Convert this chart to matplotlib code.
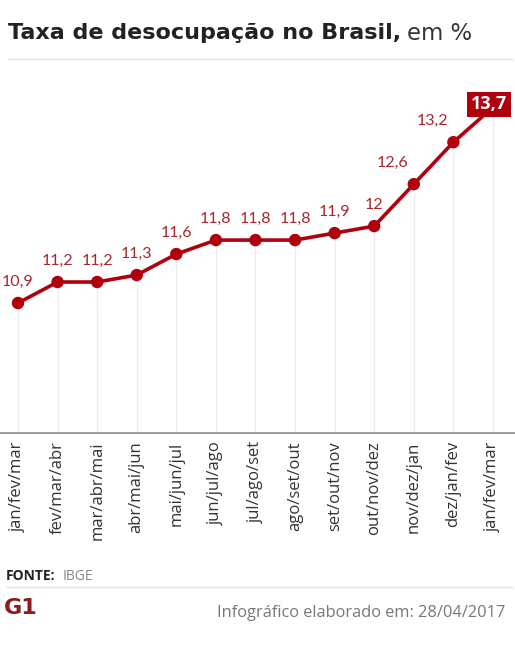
"""Taxa de desocupação no Brasil - trimestres móveis (IBGE)."""

import matplotlib
matplotlib.use("Agg")

import matplotlib.pyplot as plt

periods = [
    "jan/fev/mar", "fev/mar/abr", "mar/abr/mai", "abr/mai/jun", "mai/jun/jul",
    "jun/jul/ago", "jul/ago/set", "ago/set/out", "set/out/nov", "out/nov/dez",
    "nov/dez/jan", "dez/jan/fev", "jan/fev/mar",
]
rates = [10.9, 11.2, 11.2, 11.3, 11.6, 11.8, 11.8, 11.8, 11.9, 12.0, 12.6, 13.2, 13.7]
value_labels = ["10,9", "11,2", "11,2", "11,3", "11,6", "11,8", "11,8", "11,8",
                "11,9", "12", "12,6", "13,2", "13,7"]

RED = "#b0000d"
LABEL_RED = "#a8262c"
FONT = "Open Sans"

W, H = 515, 662
fig = plt.figure(figsize=(W / 100, H / 100), dpi=100)


def fy(py):
    return 1 - py / H


ax = fig.add_axes([0, fy(433), 1, fy(80) - fy(433)])
ax.set_xlim(-0.455, 12.557)
ax.set_ylim(9.04, 14.09)

xs = list(range(len(rates)))
ax.vlines(xs, 9.04, rates, color="#ececec", lw=0.8, zorder=1)
ax.plot(xs, rates, color=RED, lw=2.6, zorder=3, solid_capstyle="round")
ax.scatter(xs[:-1], rates[:-1], s=80, color=RED, zorder=4, edgecolors="none")

for x, y, lab in zip(xs[:-1], rates[:-1], value_labels[:-1]):
    ax.annotate(lab, (x, y), xytext=(-4 if x >= 10 else 0, 10), textcoords="offset points",
                ha="right" if x >= 10 else "center", va="bottom",
                fontsize=11.5, color=LABEL_RED, family="Lato")

# highlighted last value
ax.annotate(value_labels[-1], (xs[-1], rates[-1]), xytext=(-3, 2), textcoords="offset points",
            ha="center", va="center", fontsize=13, fontweight="bold", color="white",
            family=FONT,
            bbox=dict(boxstyle="square,pad=0.2", fc=RED, ec="none"), zorder=6)

for s in ["top", "right", "left"]:
    ax.spines[s].set_visible(False)
ax.spines["bottom"].set_color("#8a8a8a")
ax.spines["bottom"].set_linewidth(1.2)
ax.set_yticks([])
ax.set_xticks(xs)
ax.set_xticklabels(periods, rotation=90, fontsize=12, family=FONT, color="#333333")
ax.tick_params(axis="x", length=0, pad=6)

# header
t1 = fig.text(8 / W, fy(33), "Taxa de desocupação no Brasil,", fontsize=16, fontweight="bold",
              family="DejaVu Sans", color="#222222", va="center")
renderer = fig.canvas.get_renderer()
bb = t1.get_window_extent(renderer)
t1.set_fontsize(16 * 395 / bb.width)
bb = t1.get_window_extent(renderer)
fig.text((bb.x1 + 6) / W, fy(33), "em %", fontsize=t1.get_fontsize() * 1.02,
         family="DejaVu Sans", color="#333333", va="center")
fig.add_artist(plt.Line2D([8 / W, 512 / W], [fy(59), fy(59)], color="#dddddd", lw=1))

# footer
fig.text(6 / W, fy(576), "FONTE:", fontsize=10, fontweight="bold", family=FONT,
         color="#222222", va="center")
fig.text(63 / W, fy(576), "IBGE", fontsize=10, family=FONT, color="#888888", va="center")
fig.add_artist(plt.Line2D([6 / W, 512 / W], [fy(587), fy(587)], color="#e3e3e3", lw=1))
fig.text(505 / W, fy(613), "Infográfico elaborado em: 28/04/2017", fontsize=11.8,
         family=FONT, color="#777777", ha="right", va="center")
fig.text(4 / W, fy(608), "G1", fontsize=16, fontweight="bold", family="DejaVu Sans",
         color="#8c1a1f", va="center")

fig.savefig("out.png", dpi=100)
